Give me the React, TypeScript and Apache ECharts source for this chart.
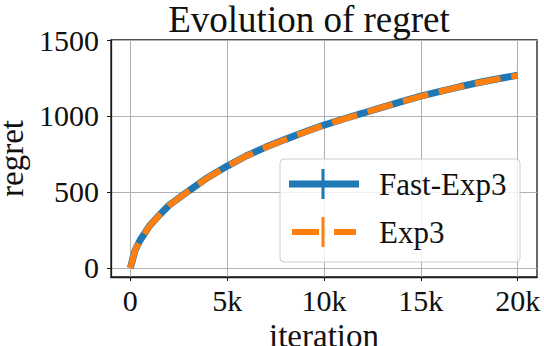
import React, { useEffect, useRef } from "react";
import * as echarts from "echarts";

const iterations = [0, 250, 500, 1000, 1500, 2000, 3000, 4000, 5000, 6000, 7000, 8000, 9000, 10000, 11000, 12000, 13000, 14000, 15000, 16000, 17000, 18000, 19000, 20000];
const fastExp3 = [0, 118, 182, 278, 348, 412, 506, 595, 670, 738, 795, 846, 894, 940, 980, 1018, 1057, 1094, 1130, 1162, 1192, 1220, 1245, 1268];
const exp3 = [0, 117, 181, 277, 347, 411, 505, 594, 669, 737, 794, 845, 893, 939, 979, 1017, 1056, 1093, 1129, 1161, 1191, 1219, 1244, 1266];
const xTicks = [0, 5000, 10000, 15000, 20000];
const yTicks = [0, 500, 1000, 1500];
const seriesNames = ["Fast-Exp3", "Exp3"];
const titleText = "Evolution of regret";

const FONT = "'Liberation Serif', 'DejaVu Serif', serif";
const BLUE = "#1f77b4";
const ORANGE = "#ff7f0e";

export default function App() {
  const ref = useRef<HTMLDivElement>(null);
  useEffect(() => {
    if (!ref.current) return;
    const chart = echarts.init(ref.current, undefined, { renderer: "svg" });
    const lx = 289, rx = 359, cx = 323;
    const y1 = 184, y2 = 232;
    chart.setOption({
      animation: false,
      backgroundColor: "#ffffff",
      title: {
        text: titleText,
        left: 309,
        textAlign: "center",
        top: 1,
        padding: 0,
        textStyle: { fontFamily: FONT, fontSize: 37, fontWeight: "normal", color: "#111" },
      },
      grid: {
        left: 111,
        right: 7,
        top: 40,
        bottom: 69,
        outerBoundsMode: "none",
        containLabel: false,
        show: true,
        borderColor: "#1a1a1a",
        borderWidth: 1.3,
        backgroundColor: "transparent",
      },
      xAxis: {
        type: "value",
        min: -1000,
        max: 21000,
        name: "iteration",
        nameLocation: "middle",
        nameGap: 35,
        nameTextStyle: { fontFamily: FONT, fontSize: 33, color: "#111" },
        axisLine: { show: true, onZero: false, lineStyle: { color: "#1a1a1a", width: 1.3 } },
        axisTick: { show: true, length: 4, customValues: xTicks, lineStyle: { color: "#1a1a1a" } },
        axisLabel: {
          customValues: xTicks,
          margin: 8,
          fontFamily: FONT,
          fontSize: 30,
          color: "#111",
          formatter: (v: number) => (v === 0 ? "0" : v / 1000 + "k"),
        },
        splitLine: { show: true, lineStyle: { color: "#b0b0b0", width: 1 } },
      },
      yAxis: {
        type: "value",
        min: -60,
        max: 1500,
        name: "regret",
        nameLocation: "middle",
        nameRotate: 90,
        nameGap: 75,
        nameTextStyle: { fontFamily: FONT, fontSize: 33, color: "#111" },
        axisLine: { show: true, onZero: false, lineStyle: { color: "#1a1a1a", width: 1.3 } },
        axisTick: { show: true, length: 4, customValues: yTicks, lineStyle: { color: "#1a1a1a" } },
        axisLabel: {
          customValues: yTicks,
          margin: 12,
          fontFamily: FONT,
          fontSize: 30,
          color: "#111",
          formatter: (v: number) => String(v),
        },
        splitLine: { show: true, lineStyle: { color: "#b0b0b0", width: 1 } },
      },
      series: [
        {
          name: seriesNames[0],
          type: "line",
          data: iterations.map((x, i) => [x, fastExp3[i]]),
          showSymbol: false,
          symbol: "none",
          lineStyle: { color: BLUE, width: 7, cap: "butt" },
          z: 3,
        },
        {
          name: seriesNames[1],
          type: "line",
          data: iterations.map((x, i) => [x, exp3[i]]),
          showSymbol: false,
          symbol: "none",
          lineStyle: { color: ORANGE, width: 6, type: [26, 11], cap: "butt" },
          z: 4,
        },
      ],
      graphic: [
        {
          type: "rect",
          shape: { x: 280, y: 159, width: 240, height: 103, r: 4 },
          style: { fill: "rgba(255,255,255,0.8)", stroke: "#cccccc", lineWidth: 1 },
          z: 100,
        },
        { type: "line", shape: { x1: lx, y1: y1, x2: rx, y2: y1 }, style: { stroke: BLUE, lineWidth: 7 }, z: 101 },
        { type: "line", shape: { x1: cx, y1: y1 - 15, x2: cx, y2: y1 + 15 }, style: { stroke: BLUE, lineWidth: 3 }, z: 101 },
        { type: "line", shape: { x1: 292, y1: y2, x2: 319, y2: y2 }, style: { stroke: ORANGE, lineWidth: 6 }, z: 101 },
        { type: "line", shape: { x1: 334, y1: y2, x2: 356, y2: y2 }, style: { stroke: ORANGE, lineWidth: 6 }, z: 101 },
        { type: "line", shape: { x1: cx, y1: y2 - 15, x2: cx, y2: y2 + 15 }, style: { stroke: ORANGE, lineWidth: 3 }, z: 101 },
        {
          type: "text",
          x: 379,
          y: y1,
          style: { text: seriesNames[0], font: `31px ${FONT}`, fill: "#111", verticalAlign: "middle", align: "left" },
          z: 101,
        },
        {
          type: "text",
          x: 379,
          y: y2,
          style: { text: seriesNames[1], font: `31px ${FONT}`, fill: "#111", verticalAlign: "middle", align: "left" },
          z: 101,
        },
      ],
    });
    return () => chart.dispose();
  }, []);
  return <div ref={ref} style={{ width: 544, height: 346, position: "absolute", left: 0, top: 0 }} />;
}
